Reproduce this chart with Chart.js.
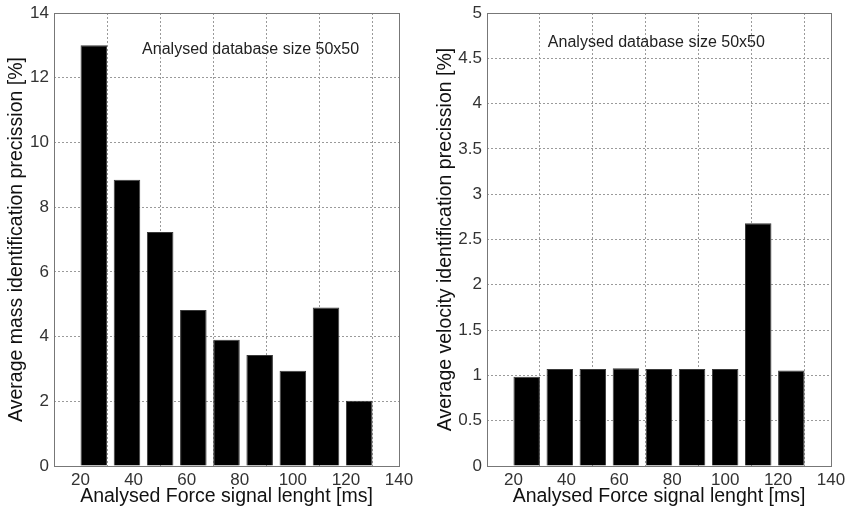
<!DOCTYPE html>
<html>
<head>
<meta charset="utf-8">
<script src="https://cdn.jsdelivr.net/npm/chart.js@4/dist/chart.umd.min.js"></script>
<style>
    body { margin: 0; background: #fff; }
    #wrap { position: relative; width: 845px; height: 514px; }
    canvas { position: absolute; top: 0; }
    #mass-chart { left: 0; }
    #velocity-chart { left: 420px; }
</style>
</head>
<body>
<div id="wrap">
    <canvas id="mass-chart" width="420" height="514"></canvas>
    <canvas id="velocity-chart" width="425" height="514"></canvas>
</div>
<script>
// values
const signalLengths = [25, 37.5, 50, 62.5, 75, 87.5, 100, 112.5, 125];
const massPrecision = [13.0, 8.85, 7.23, 4.82, 3.9, 3.43, 2.94, 4.9, 2.02];
const velocityPrecision = [0.985, 1.07, 1.07, 1.08, 1.07, 1.07, 1.07, 2.68, 1.055];
const xTicks = [20, 40, 60, 80, 100, 120, 140];
const massTicks = [0, 2, 4, 6, 8, 10, 12, 14];
const velocityTicks = [0, 0.5, 1, 1.5, 2, 2.5, 3, 3.5, 4, 4.5, 5];

const fontFamily = "Arial, 'Liberation Sans', sans-serif";
const gridColor = '#9a9a9a';
const boxColor = '#777';

// box round the plot + the little note inside it
const framePlugin = {
    id: 'frame',
    afterDraw(chart, args, opts) {
        const { ctx, chartArea: a, scales } = chart;
        ctx.save();
        ctx.strokeStyle = boxColor;
        ctx.lineWidth = 1;
        const l = Math.round(a.left) + 0.5, t = Math.round(a.top) + 0.5;
        const r = Math.round(a.right) + 0.5, b = Math.round(a.bottom) + 0.5;
        ctx.strokeRect(l, t, r - l, b - t);
        ctx.fillStyle = '#222';
        ctx.font = '16px ' + fontFamily;
        ctx.textBaseline = 'middle';
        ctx.fillText(opts.note, scales.x.getPixelForValue(opts.noteX), scales.y.getPixelForValue(opts.noteY));
        ctx.restore();
    }
};

function renderBarChart(canvasId, values, yTicks, yMax, yTitle, yAxisWidth, rightPad, yTitlePad, noteX, noteY) {
    new Chart(document.getElementById(canvasId), {
        type: 'bar',
        data: {
            datasets: [{
                data: signalLengths.map((x, i) => ({ x: x, y: values[i] })),
                backgroundColor: '#000',
                borderColor: '#3a3a3a',
                borderWidth: 1,
                barPercentage: 0.8,
                categoryPercentage: 1.0,
            }]
        },
        options: {
            responsive: false,
            animation: false,
            layout: { padding: { left: 0, right: rightPad, top: 13, bottom: 0 } },
            plugins: {
                legend: { display: false },
                tooltip: { enabled: false },
                frame: { note: 'Analysed database size 50x50', noteX: noteX, noteY: noteY },
            },
            scales: {
                x: {
                    type: 'linear',
                    min: 10,
                    max: 140,
                    offset: false,
                    afterBuildTicks: s => { s.ticks = xTicks.map(v => ({ value: v })); },
                    afterFit: s => { s.height = 48; s.paddingLeft = 0; s.paddingRight = 0; },
                    grid: { color: gridColor, drawTicks: false },
                    border: { display: false, dash: [2, 2] },
                    ticks: {
                        color: '#333',
                        padding: 4,
                        maxRotation: 0,
                        autoSkip: false,
                        font: { family: fontFamily, size: 17 },
                    },
                    title: {
                        display: true,
                        text: 'Analysed Force signal lenght [ms]',
                        color: '#111',
                        font: { family: fontFamily, size: 19.5 },
                        padding: { top: 0, bottom: 6 },
                    },
                },
                y: {
                    type: 'linear',
                    min: 0,
                    max: yMax,
                    afterBuildTicks: s => { s.ticks = yTicks.map(v => ({ value: v })); },
                    afterFit: s => { s.width = yAxisWidth; s.paddingTop = 0; s.paddingBottom = 0; },
                    grid: { color: gridColor, drawTicks: false },
                    border: { display: false, dash: [2, 2] },
                    ticks: {
                        color: '#333',
                        padding: 5,
                        autoSkip: false,
                        font: { family: fontFamily, size: 17 },
                        callback: v => String(v),
                    },
                    title: {
                        display: true,
                        text: yTitle,
                        color: '#111',
                        font: { family: fontFamily, size: 19.5 },
                        padding: { top: yTitlePad, bottom: 0 },
                    },
                },
            },
        },
        plugins: [framePlugin],
    });
}

renderBarChart('mass-chart', massPrecision, massTicks, 14,
    'Average mass identification precission [%]', 54, 21, 5, 43.2, 12.87);
renderBarChart('velocity-chart', velocityPrecision, velocityTicks, 5,
    'Average velocity identification precission [%]', 67, 14, 14, 33, 4.67);
</script>
</body>
</html>
